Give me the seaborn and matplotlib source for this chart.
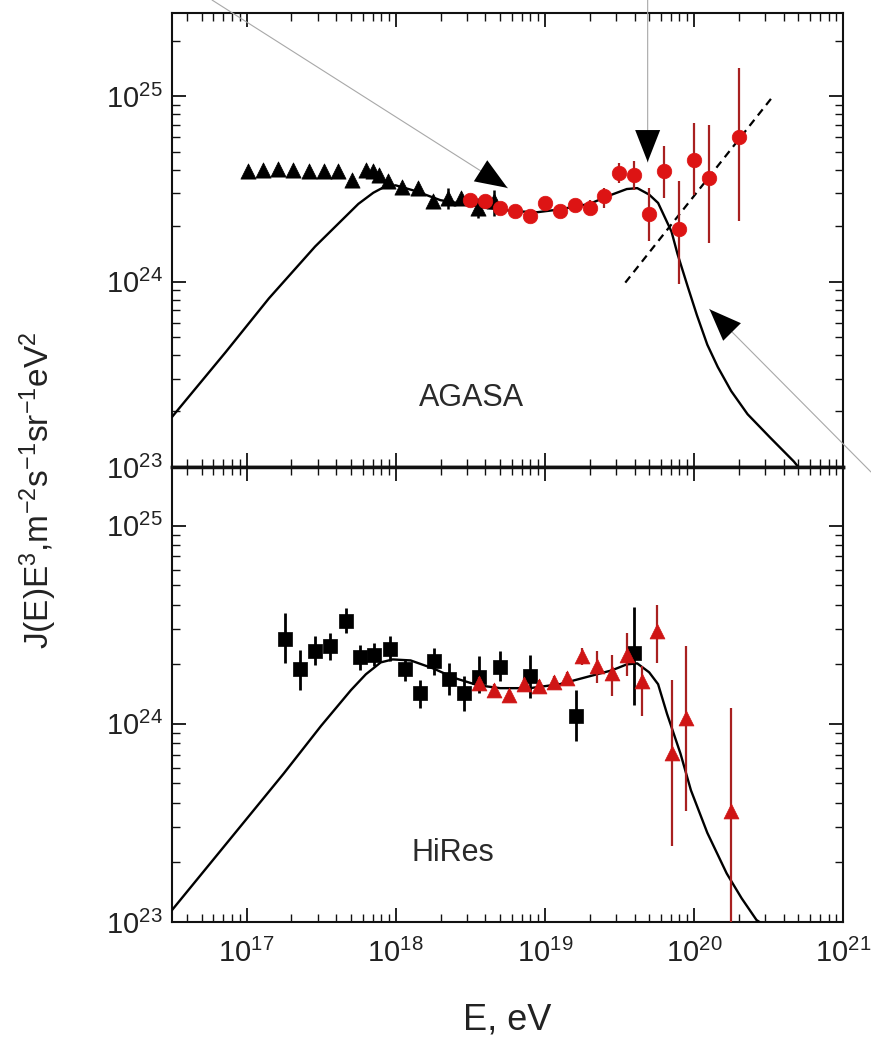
import numpy as np
import matplotlib
matplotlib.use("Agg")
import matplotlib.pyplot as plt
from matplotlib.ticker import LogLocator, NullFormatter, LogFormatterSciNotation
import seaborn as sns

# ---------------- data (log10 values) ----------------
# AGASA panel: black triangles
agasa_tri_logE = [17.01, 17.11, 17.21, 17.31, 17.42, 17.52, 17.61, 17.71, 17.80, 17.85,
                  17.89, 17.95, 18.04, 18.15, 18.25, 18.35, 18.44, 18.55, 18.66]
agasa_tri_logJ = [24.595, 24.605, 24.608, 24.605, 24.596, 24.596, 24.600, 24.551, 24.602, 24.596,
                  24.578, 24.545, 24.510, 24.506, 24.434, 24.452, 24.452, 24.400, 24.436]
agasa_tri_lo = [24.595, 24.605, 24.608, 24.605, 24.596, 24.596, 24.600, 24.551, 24.602, 24.596,
                24.578, 24.545, 24.510, 24.506, 24.434, 24.390, 24.452, 24.345, 24.355]
agasa_tri_hi = [24.595, 24.605, 24.608, 24.605, 24.596, 24.596, 24.600, 24.551, 24.602, 24.596,
                24.578, 24.545, 24.510, 24.506, 24.434, 24.506, 24.452, 24.450, 24.497]

# AGASA panel: red circles
agasa_cir_logE = [18.5, 18.6, 18.7, 18.8, 18.9, 19.0, 19.1, 19.2, 19.3, 19.4,
                  19.5, 19.6, 19.7, 19.8, 19.9, 20.0, 20.1, 20.3]
agasa_cir_logJ = [24.443, 24.434, 24.399, 24.381, 24.354, 24.426, 24.381, 24.413, 24.399, 24.461,
                  24.587, 24.575, 24.363, 24.596, 24.287, 24.659, 24.560, 24.779]
agasa_cir_lo = [24.415, 24.405, 24.370, 24.352, 24.325, 24.397, 24.352, 24.384, 24.360, 24.399,
                24.533, 24.497, 24.219, 24.452, 23.986, 24.470, 24.210, 24.327]
agasa_cir_hi = [24.470, 24.462, 24.428, 24.410, 24.383, 24.455, 24.410, 24.442, 24.440, 24.506,
                24.641, 24.650, 24.506, 24.731, 24.542, 24.856, 24.847, 25.153]

# AGASA panel: model curve
agasa_model_logE = [16.50, 16.86, 17.15, 17.46, 17.75, 17.85, 17.92, 18.00, 18.13, 18.30,
                    18.45, 18.60, 18.80, 18.95, 19.10, 19.30, 19.45, 19.55, 19.62, 19.70,
                    19.76, 19.85, 19.89, 19.96, 20.02, 20.09, 20.16, 20.25, 20.36, 20.51,
                    20.67, 20.70]
agasa_model_logJ = [23.27, 23.62, 23.91, 24.19, 24.42, 24.48, 24.51, 24.52, 24.49, 24.44,
                    24.42, 24.40, 24.38, 24.375, 24.39, 24.42, 24.47, 24.50, 24.505, 24.47,
                    24.425, 24.27, 24.15, 23.97, 23.82, 23.66, 23.54, 23.41, 23.285, 23.16,
                    23.03, 23.00]

# AGASA panel: dashed trend line (two end points)
dash_logE = [19.54, 20.53]
dash_logJ = [23.995, 25.00]

# HiRes panel: black squares
hires_sq_logE = [17.26, 17.36, 17.46, 17.56, 17.67, 17.76, 17.855, 17.96, 18.06, 18.16,
                 18.26, 18.36, 18.46, 18.56, 18.70, 18.90, 19.21, 19.60]
hires_sq_logJ = [24.428, 24.277, 24.369, 24.391, 24.517, 24.337, 24.349, 24.378, 24.277, 24.156,
                 24.319, 24.227, 24.156, 24.237, 24.287, 24.240, 24.042, 24.357]
hires_sq_lo = [24.307, 24.173, 24.299, 24.324, 24.458, 24.273, 24.290, 24.315, 24.215, 24.081,
               24.248, 24.148, 24.064, 24.156, 24.215, 24.131, 23.913, 24.097]
hires_sq_hi = [24.559, 24.374, 24.441, 24.458, 24.584, 24.399, 24.408, 24.441, 24.324, 24.223,
               24.383, 24.307, 24.240, 24.341, 24.366, 24.349, 24.173, 24.592]

# HiRes panel: red triangles
hires_tri_logE = [18.556, 18.66, 18.76, 18.86, 18.96, 19.06, 19.15, 19.25, 19.35, 19.45,
                  19.55, 19.65, 19.75, 19.85, 19.95, 20.25]
hires_tri_logJ = [24.206, 24.169, 24.143, 24.203, 24.190, 24.210, 24.232, 24.340, 24.290, 24.257,
                  24.349, 24.215, 24.466, 23.854, 24.030, 23.560]
hires_tri_lo = [24.176, 24.139, 24.113, 24.173, 24.160, 24.180, 24.202, 24.299, 24.206, 24.139,
                24.240, 24.039, 24.307, 23.384, 23.560, 22.900]
hires_tri_hi = [24.236, 24.199, 24.173, 24.233, 24.220, 24.240, 24.262, 24.383, 24.366, 24.349,
                24.458, 24.290, 24.601, 24.223, 24.391, 24.080]

# HiRes panel: model curve
hires_model_logE = [16.50, 16.75, 17.00, 17.25, 17.50, 17.70, 17.80, 17.90, 17.98, 18.10,
                    18.25, 18.40, 18.55, 18.70, 18.90, 19.10, 19.30, 19.45, 19.55, 19.62,
                    19.70, 19.76, 19.82, 19.91, 19.98, 20.09, 20.22, 20.32, 20.42, 20.44]
hires_model_logJ = [23.06, 23.29, 23.52, 23.75, 23.99, 24.17, 24.25, 24.31, 24.325, 24.32,
                    24.28, 24.23, 24.195, 24.18, 24.18, 24.20, 24.24, 24.27, 24.30, 24.305,
                    24.26, 24.20, 24.05, 23.85, 23.665, 23.45, 23.245, 23.12, 23.01, 23.00]

panel_labels = ["AGASA", "HiRes"]
xlabel = "E, eV"
ylabel = r"J(E)E$^{3}$,m$^{-2}$s$^{-1}$sr$^{-1}$eV$^{2}$"

# annotation arrow tips (log10 E, log10 J) on the AGASA panel
arrow_tip_logE = [18.75, 19.69, 20.105]
arrow_tip_logJ = [24.506, 24.646, 23.851]


def p10(a):
    return 10.0 ** np.asarray(a, dtype=float)


# ---------------- style ----------------
sns.set_theme(style="ticks")
plt.rcParams["font.family"] = ["Liberation Sans", "DejaVu Sans"]
plt.rcParams["mathtext.fontset"] = "custom"
plt.rcParams["mathtext.rm"] = "Liberation Sans"
plt.rcParams["mathtext.it"] = "Liberation Sans:italic"
plt.rcParams["mathtext.bf"] = "Liberation Sans:bold"
plt.rcParams["axes.unicode_minus"] = True

W, H = 871, 1048
fig = plt.figure(figsize=(W / 100, H / 100), dpi=100)
fig.patch.set_facecolor("white")

L, R = 172, 843
ax1 = fig.add_axes([L / W, 1 - 467 / H, (R - L) / W, (467 - 13) / H])
ax2 = fig.add_axes([L / W, 1 - 922 / H, (R - L) / W, (922 - 467) / H])

RED = "#dd1414"
RED_T = "#cf1515"
RED_E = "#a82020"

for ax in (ax1, ax2):
    ax.set_xscale("log")
    ax.set_yscale("log")
    ax.set_xlim(10 ** 16.5, 1e21)
    ax.set_facecolor("white")
    ax.grid(False)
    for s in ax.spines.values():
        s.set_linewidth(1.5)
        s.set_color("#111111")
    ax.xaxis.set_major_locator(LogLocator(base=10, numticks=20))
    ax.xaxis.set_minor_locator(LogLocator(base=10, subs=np.arange(2, 10), numticks=20))
    ax.yaxis.set_major_locator(LogLocator(base=10, numticks=20))
    ax.yaxis.set_minor_locator(LogLocator(base=10, subs=np.arange(2, 10), numticks=20))
    ax.xaxis.set_minor_formatter(NullFormatter())
    ax.yaxis.set_minor_formatter(NullFormatter())
    ax.xaxis.set_major_formatter(LogFormatterSciNotation())
    ax.yaxis.set_major_formatter(LogFormatterSciNotation())
    ax.tick_params(which="major", direction="in", length=10, width=1.3,
                   top=True, right=True, labelsize=21, colors="#111111",
                   labelcolor="#222222")
    ax.tick_params(which="minor", direction="in", length=5.5, width=1.0,
                   top=True, right=True, colors="#111111")
    ax.tick_params(axis="y", which="major", pad=7)
    ax.tick_params(axis="x", which="major", pad=12)
    ax.set_xlabel("")
    ax.set_ylabel("")

ax1.set_ylim(1e23, 10 ** 25.45)
ax2.set_ylim(1e23, 10 ** 25.296)
ax1.tick_params(labelbottom=False)
ax1.spines["bottom"].set_linewidth(2.5)
ax2.spines["top"].set_linewidth(2.5)

# ---------------- AGASA panel ----------------
sns.lineplot(x=p10(agasa_model_logE), y=p10(agasa_model_logJ), ax=ax1, color="black",
             lw=1.7, sort=False, estimator=None, zorder=3)
sns.lineplot(x=p10(dash_logE), y=p10(dash_logJ), ax=ax1, color="black", lw=1.6,
             sort=False, estimator=None, zorder=3).lines[-1].set_dashes([3.5, 2.5])

y = p10(agasa_tri_logJ)
ax1.errorbar(p10(agasa_tri_logE), y, yerr=[y - p10(agasa_tri_lo), p10(agasa_tri_hi) - y],
             fmt="none", ecolor="black", elinewidth=1.8, capsize=0, zorder=4)
sns.scatterplot(x=p10(agasa_tri_logE), y=y, ax=ax1, marker="^", s=120, color="black",
                edgecolor="black", linewidth=0.5, zorder=5)

y = p10(agasa_cir_logJ)
ax1.errorbar(p10(agasa_cir_logE), y, yerr=[y - p10(agasa_cir_lo), p10(agasa_cir_hi) - y],
             fmt="none", ecolor=RED_E, elinewidth=1.6, capsize=0, zorder=6)
sns.scatterplot(x=p10(agasa_cir_logE), y=y, ax=ax1, marker="o", s=110, color=RED,
                edgecolor=RED, linewidth=0.5, zorder=7)

ax1.text(0.446, 0.152, panel_labels[0], transform=ax1.transAxes, ha="center", va="center",
         fontsize=22, color="#2a2a2a")

# ---------------- HiRes panel ----------------
sns.lineplot(x=p10(hires_model_logE), y=p10(hires_model_logJ), ax=ax2, color="black",
             lw=1.7, sort=False, estimator=None, zorder=3)

y = p10(hires_sq_logJ)
ax2.errorbar(p10(hires_sq_logE), y, yerr=[y - p10(hires_sq_lo), p10(hires_sq_hi) - y],
             fmt="none", ecolor="black", elinewidth=2.0, capsize=0, zorder=4)
sns.scatterplot(x=p10(hires_sq_logE), y=y, ax=ax2, marker="s", s=95, color="black",
                edgecolor="black", linewidth=0.5, zorder=5)

y = p10(hires_tri_logJ)
ax2.errorbar(p10(hires_tri_logE), y, yerr=[y - p10(hires_tri_lo), p10(hires_tri_hi) - y],
             fmt="none", ecolor=RED_E, elinewidth=1.6, capsize=0, zorder=6)
sns.scatterplot(x=p10(hires_tri_logE), y=y, ax=ax2, marker="^", s=115, color=RED_T,
                edgecolor=RED_T, linewidth=0.5, zorder=7)

ax2.text(0.419, 0.152, panel_labels[1], transform=ax2.transAxes, ha="center", va="center",
         fontsize=22, color="#2a2a2a")

for ax in (ax1, ax2):
    leg = ax.get_legend()
    if leg is not None:
        leg.remove()

# ---------------- annotation arrows ----------------
fig.canvas.draw()
tip2_px = ax1.transData.transform((10 ** arrow_tip_logE[1], 10 ** arrow_tip_logJ[1]))
arrow_tails_px = [(212, H), (float(tip2_px[0]), H), (871, H - 472)]
for lx, ly, tail in zip(arrow_tip_logE, arrow_tip_logJ, arrow_tails_px):
    tip = (10 ** lx, 10 ** ly)
    ax1.annotate("", xy=tip, xycoords="data", xytext=tail, textcoords="figure pixels",
                 arrowprops=dict(arrowstyle="-", color="#a8a8a8", lw=0.8,
                                 shrinkA=0, shrinkB=0),
                 annotation_clip=False, zorder=8)
    ax1.annotate("", xy=tip, xycoords="data", xytext=tail, textcoords="figure pixels",
                 arrowprops=dict(arrowstyle="-|>,head_length=1.15,head_width=0.45",
                                 color="black", lw=0, mutation_scale=20,
                                 shrinkA=0, shrinkB=0),
                 annotation_clip=False, zorder=9)

# ---------------- axis titles ----------------
fig.text(507 / W, 1 - 1030 / H, xlabel, ha="center", va="baseline", fontsize=26,
         color="#222222")
fig.text(38 / W, 1 - 490 / H, ylabel, ha="center", va="center", rotation=90,
         fontsize=24, color="#222222")

fig.savefig("out.png", dpi=100, facecolor="white")
